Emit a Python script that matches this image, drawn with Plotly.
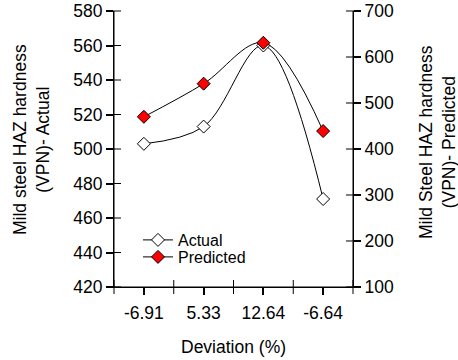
import plotly.graph_objects as go

categories = ["-6.91", "5.33", "12.64", "-6.64"]
actual = [503, 513, 560, 471]
predicted = [470, 542, 631, 439]
left_range = [420, 580]
right_range = [100, 700]
left_ticks = list(range(420, 581, 20))
right_ticks = list(range(100, 701, 100))

FONT = "Liberation Sans, Arial, sans-serif"
FS = 17.5
PW, PH = 239, 276  # plot area size in px
TK = 7  # half tick length in px

fig = go.Figure()
fig.add_trace(go.Scatter(
    x=categories, y=actual, name="Actual", mode="lines+markers", legend="legend",
    line=dict(color="black", width=1, shape="spline", smoothing=1),
    marker=dict(symbol="diamond", size=10, color="white", line=dict(color="black", width=1)),
))
fig.add_trace(go.Scatter(
    x=categories, y=predicted, name="Predicted", mode="lines+markers", yaxis="y2", legend="legend2",
    line=dict(color="black", width=1, shape="spline", smoothing=1),
    marker=dict(symbol="diamond", size=10, color="red", line=dict(color="black", width=1)),
))

axis_common = dict(showline=True, linecolor="#000000", linewidth=1, showgrid=False, zeroline=False,
                   ticks="outside", ticklen=TK, tickcolor="#000000", tickwidth=1.5, automargin=False,
                   tickfont=dict(size=FS, color="black", family=FONT))

leg = dict(xanchor="left", yanchor="middle", bgcolor="rgba(0,0,0,0)",
           font=dict(size=16), tracegroupgap=0)

fig.update_layout(
    width=458, height=360,
    margin=dict(l=114, r=105, t=11, b=73, autoexpand=False),
    paper_bgcolor="white", plot_bgcolor="white",
    font=dict(family=FONT, size=FS, color="black"),
    showlegend=True,
    legend=dict(**leg, x=24 / PW, y=(287 - 240) / PH),
    legend2=dict(**leg, x=24 / PW, y=(287 - 257) / PH),
    xaxis=dict(**axis_common, type="category", range=[-0.5, 3.5], ticklabelstandoff=3),
    yaxis=dict(**axis_common, range=left_range, tickvals=left_ticks),
    yaxis2=dict(**axis_common, range=right_range, tickvals=right_ticks, overlaying="y", side="right"),
)

line_style = dict(color="black", width=1)
# axis lines
fig.add_shape(type="line", xref="paper", yref="paper", x0=0, x1=0, y0=0, y1=1, line=line_style)
fig.add_shape(type="line", xref="paper", yref="paper", x0=1, x1=1, y0=0, y1=1, line=line_style)
fig.add_shape(type="line", xref="paper", yref="paper", x0=0, x1=1, y0=0, y1=0, line=line_style)

# crossing tick marks as one path (positions taken from the axis ranges)
segs = []
for v in left_ticks:
    f = (v - left_range[0]) / (left_range[1] - left_range[0])
    segs.append(f"M{-TK / PW:.5f},{f:.5f}L{TK / PW:.5f},{f:.5f}")
for v in right_ticks:
    f = (v - right_range[0]) / (right_range[1] - right_range[0])
    segs.append(f"M{1 - TK / PW:.5f},{f:.5f}L{1 + TK / PW:.5f},{f:.5f}")
for i in range(len(categories) + 1):
    f = i / len(categories)
    segs.append(f"M{f:.5f},{-TK / PH:.5f}L{f:.5f},{TK / PH:.5f}")
fig.add_shape(type="path", xref="paper", yref="paper", path="".join(segs), line=line_style)

fig.add_annotation(text="Deviation (%)", xref="paper", yref="paper", x=0.5, y=(287 - 347) / PH,
                   showarrow=False, font=dict(size=FS), xanchor="center", yanchor="middle")
fig.add_annotation(text="Mild steel HAZ hardness<br>(VPN)- Actual", xref="paper", yref="paper",
                   x=(31 - 114) / PW, y=(287 - 140) / PH, textangle=-90, showarrow=False,
                   font=dict(size=FS), xanchor="center", yanchor="middle")
fig.add_annotation(text="Mild Steel HAZ hardness<br>(VPN)- Predicted", xref="paper", yref="paper",
                   x=(437 - 114) / PW, y=(287 - 142) / PH, textangle=-90, showarrow=False,
                   font=dict(size=FS), xanchor="center", yanchor="middle")

fig.write_html("out.html")
